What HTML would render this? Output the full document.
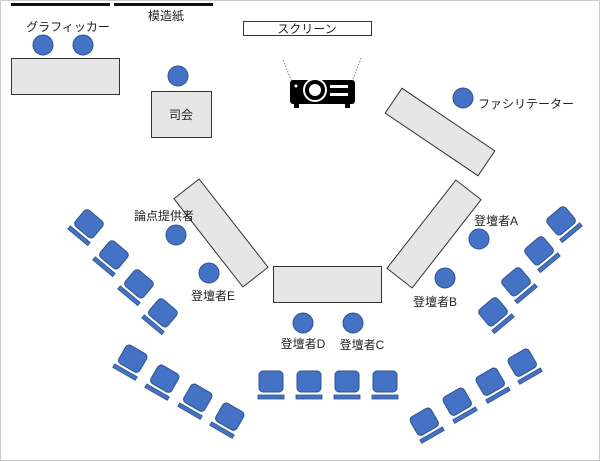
<!DOCTYPE html>
<html><head><meta charset="utf-8"><style>
body{margin:0;background:#fff}
svg{display:block}
text{font-family:"Liberation Sans","Noto Sans CJK JP",sans-serif;font-size:12px;fill:#222;text-anchor:middle}
</style></head><body>
<svg width="600" height="461" viewBox="0 0 600 461">
<defs>
<g id="ch"><rect x="-12" y="-12" width="24" height="21" rx="4" fill="#4472C4" stroke="#2F528F"/><rect x="-13" y="12" width="26" height="4" fill="#4472C4" stroke="#2F528F" stroke-width="0.8"/></g>
</defs>
<rect x="0.5" y="0.5" width="599" height="460" fill="#fff" stroke="#ccc"/>
<rect x="11" y="3" width="99" height="3" fill="#111"/>
<rect x="114" y="3" width="99" height="3" fill="#111"/>
<text x="68" y="31">グラフィッカー</text>
<text x="166" y="20" font-size="11">模造紙</text>
<rect x="243.5" y="21.5" width="128" height="14" fill="#fff" stroke="#333"/>
<text x="307" y="33">スクリーン</text>
<rect x="11.5" y="58.5" width="108" height="36" fill="#e6e6e6" stroke="#333"/>
<rect x="151.5" y="91.5" width="60" height="46" fill="#e6e6e6" stroke="#333"/>
<text x="181" y="119">司会</text>
<rect x="273.5" y="266.5" width="108" height="36" fill="#e6e6e6" stroke="#333"/>
<rect x="-56" y="-16" width="112" height="32" fill="#e6e6e6" stroke="#333" transform="translate(221,233) rotate(52)"/>
<rect x="-56" y="-16" width="112" height="32" fill="#e6e6e6" stroke="#333" transform="translate(434,234) rotate(-52)"/>
<rect x="-56" y="-15" width="112" height="30" fill="#e6e6e6" stroke="#333" transform="translate(440,132) rotate(34)"/>
<!-- projector -->
<line x1="283" y1="60" x2="292" y2="82" stroke="#888" stroke-dasharray="1.5,1.5"/>
<line x1="361" y1="58" x2="352" y2="82" stroke="#888" stroke-dasharray="1.5,1.5"/>
<rect x="290" y="80" width="65" height="24" rx="3" fill="#000"/>
<rect x="294" y="103" width="5" height="5" fill="#000"/><rect x="345" y="103" width="5" height="5" fill="#000"/>
<circle cx="315" cy="90" r="11" fill="#000" stroke="#fff" stroke-width="2"/>
<circle cx="315" cy="90" r="6" fill="#fff"/>
<rect x="330" y="85" width="18" height="3" fill="#fff"/><rect x="330" y="93" width="18" height="3" fill="#fff"/>
<circle cx="296" cy="86" r="1.5" fill="#fff"/>
<g fill="#4472C4" stroke="#2F528F">
<circle cx="43" cy="45" r="10"/><circle cx="83" cy="45" r="10"/><circle cx="178" cy="76" r="10"/>
<circle cx="463" cy="98" r="10"/><circle cx="176" cy="235" r="10"/><circle cx="209" cy="273" r="10"/>
<circle cx="479" cy="239" r="10"/><circle cx="445" cy="278" r="10"/><circle cx="303" cy="323" r="10"/><circle cx="353" cy="323" r="10"/>
</g>
<text x="526" y="108">ファシリテーター</text>
<text x="164" y="220">論点提供者</text>
<text x="213" y="300">登壇者E</text>
<text x="496" y="225">登壇者A</text>
<text x="435" y="306">登壇者B</text>
<text x="303" y="348">登壇者D</text>
<text x="362" y="349">登壇者C</text>
<use href="#ch" transform="translate(271,383)"/>
<use href="#ch" transform="translate(309,383)"/>
<use href="#ch" transform="translate(347,383)"/>
<use href="#ch" transform="translate(385,383)"/>
<use href="#ch" transform="translate(88,225) rotate(40)"/>
<use href="#ch" transform="translate(113,256) rotate(40)"/>
<use href="#ch" transform="translate(138,285) rotate(40)"/>
<use href="#ch" transform="translate(162,314) rotate(40)"/>
<use href="#ch" transform="translate(132,360) rotate(30)"/>
<use href="#ch" transform="translate(164,380) rotate(30)"/>
<use href="#ch" transform="translate(197,399) rotate(30)"/>
<use href="#ch" transform="translate(229,418) rotate(30)"/>
<use href="#ch" transform="translate(562,222) rotate(-40)"/>
<use href="#ch" transform="translate(540,252) rotate(-40)"/>
<use href="#ch" transform="translate(517,283) rotate(-40)"/>
<use href="#ch" transform="translate(494,313) rotate(-40)"/>
<use href="#ch" transform="translate(523,364) rotate(-30)"/>
<use href="#ch" transform="translate(491,383) rotate(-30)"/>
<use href="#ch" transform="translate(458,403) rotate(-30)"/>
<use href="#ch" transform="translate(425,423) rotate(-30)"/>
</svg>
</body></html>
